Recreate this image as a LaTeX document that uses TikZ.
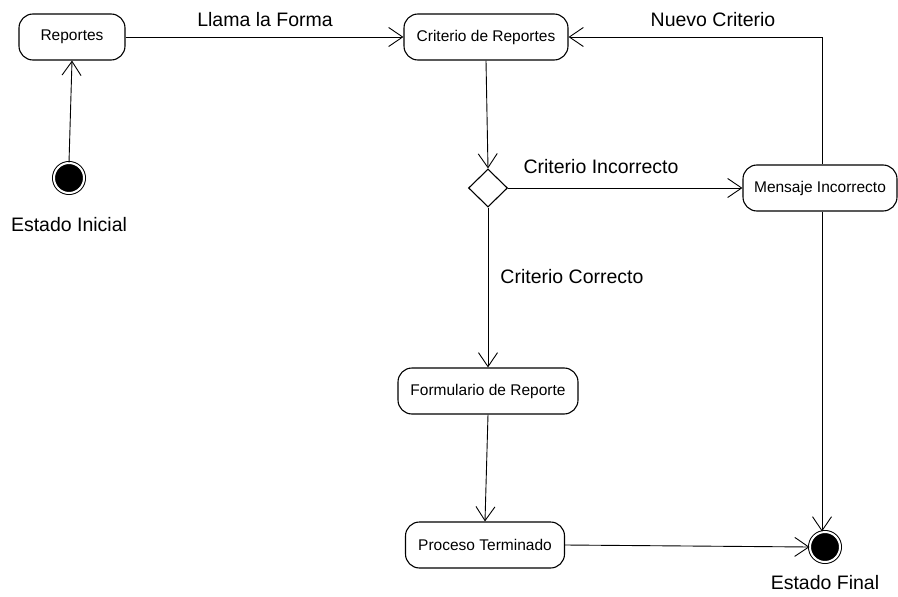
\documentclass[tikz,border=0pt]{standalone}
\usepackage{fontspec}
\setmainfont{Liberation Sans}
\usetikzlibrary{arrows.meta,shapes.geometric}
\begin{document}
\begin{tikzpicture}[x=1pt,y=-1pt,
  act/.style={draw,line width=1.1pt,rounded corners=14pt,minimum height=46pt,inner sep=0pt,font=\fontsize{15.5}{18}\selectfont},
  lbl/.style={font=\fontsize{19.5}{22}\selectfont,inner sep=0pt},
  flow/.style={draw,line width=0.9pt,-{Straight Barb[length=14pt,width=19pt,line width=0.9pt]}},
  dec/.style={draw,line width=1.1pt,diamond,minimum width=39pt,minimum height=38pt,inner sep=0pt,aspect=1},
  startst/.style={circle,fill=black,minimum size=30pt,inner sep=0pt,double=white,double distance=2pt,draw=black,line width=1pt},
]
\useasboundingbox (0,0) rectangle (898,597);
\node[act,minimum width=106pt] (rep) at (72,37) {Reportes};
\node[act,minimum width=164pt] (crit) at (486,37) {Criterio de Reportes};
\node[dec] (d) at (488,188) {};
\node[act,minimum width=154pt] (msg) at (820,188) {Mensaje Incorrecto};
\node[act,minimum width=180pt] (form) at (488,391) {Formulario de Reporte};
\node[act,minimum width=159pt] (proc) at (485,545) {Proceso Terminado};
\node[startst] (ini) at (69,178) {};
\node[startst] (fin) at (825,547) {};
\node[lbl] (lini) at (69,225) {Estado Inicial};
\node[lbl] (lfin) at (825,583) {Estado Final};
\node[lbl] (l1) at (265,20) {Llama la Forma};
\node[lbl] (l2) at (713,20) {Nuevo Criterio};
\node[lbl] (l3) at (601,167) {Criterio Incorrecto};
\node[lbl] (l4) at (572,277) {Criterio Correcto};
\coordinate (corner) at (822,37);
\draw[flow] (ini.north) -- (rep.south);
\draw[flow] (rep.east) -- (crit.west);
\draw[flow] (crit.south) -- (d.north);
\draw[flow] (d.east) -- (msg.west);
\draw[flow] (msg.north -| corner) -- (corner) -- (crit.east);
\draw[flow] (d.south) -- (form.north);
\draw[flow] (form.south) -- (proc.north);
\draw[flow] (proc.east) -- (fin.west);
\draw[flow] (msg.south -| corner) -- (fin.north -| corner);
\end{tikzpicture}
\end{document}
